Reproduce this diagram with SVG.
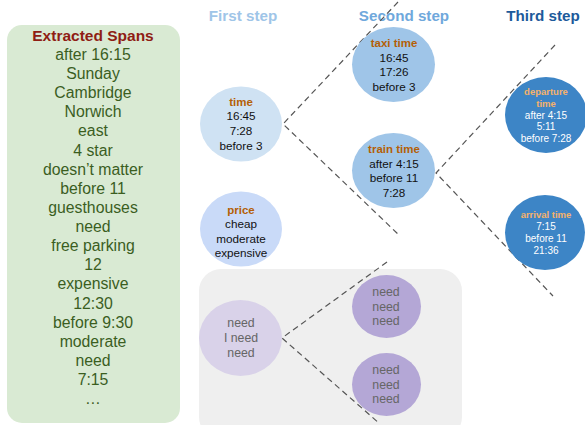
<svg xmlns="http://www.w3.org/2000/svg" width="585" height="425" viewBox="0 0 585 425">
<style>
text{font-family:"Liberation Sans",Arial,sans-serif;text-anchor:middle}
.span{font-size:15.8px;fill:#3b5e1f}
.hdr{font-size:15.2px;font-weight:bold}
.ttl{font-size:11.5px;font-weight:bold;fill:#b45f06}
.body{font-size:11.7px;fill:#111}
.ttl3{font-size:9.5px;font-weight:bold;fill:#f6b26b}
.body3{font-size:10px;fill:#fff}
.need{font-size:12.3px;fill:#666}
.dash{fill:none;stroke:#555;stroke-width:1.2;stroke-dasharray:6,4}
</style>
<rect x="7" y="25" width="173" height="398" rx="15" fill="#d9ead3"/>
<text x="93" y="41" style="font-size:15.5px;font-weight:bold;fill:#8f1d14">Extracted Spans</text>
<g>
<text x="93" y="60" class="span">after 16:15</text>
<text x="93" y="79" class="span">Sunday</text>
<text x="93" y="98" class="span">Cambridge</text>
<text x="93" y="117" class="span">Norwich</text>
<text x="93" y="136" class="span">east</text>
<text x="93" y="156" class="span">4 star</text>
<text x="93" y="175" class="span">doesn’t matter</text>
<text x="93" y="194" class="span">before 11</text>
<text x="93" y="213" class="span">guesthouses</text>
<text x="93" y="232" class="span">need</text>
<text x="93" y="251" class="span">free parking</text>
<text x="93" y="270" class="span">12</text>
<text x="93" y="289" class="span">expensive</text>
<text x="93" y="309" class="span">12:30</text>
<text x="93" y="328" class="span">before 9:30</text>
<text x="93" y="347" class="span">moderate</text>
<text x="93" y="366" class="span">need</text>
<text x="93" y="385" class="span">7:15</text>
<text x="93" y="404" class="span">…</text>
</g>
<text x="243" y="21" class="hdr" fill="#9fc5e8">First step</text>
<text x="404" y="21" class="hdr" fill="#6fa8dc">Second step</text>
<text x="543" y="21" class="hdr" fill="#1c5a9b">Third step</text>
<rect x="199" y="269" width="263" height="170" rx="22" fill="#efefef"/>
<g id="connectors">
<path class="dash" d="M398,2 L283,124 L399,235"/>
<path class="dash" d="M555,45 L436,173 L553,296"/>
<path class="dash" d="M387,262 L282,338 L380,424"/>
</g>
<g id="time">
<ellipse cx="241" cy="124" rx="41" ry="37.5" fill="#cfe2f3"/>
<text x="241" y="106" class="ttl">time</text>
<text x="241" y="120" class="body">16:45</text>
<text x="241" y="135" class="body">7:28</text>
<text x="241" y="150" class="body">before 3</text>
</g>
<g id="price">
<ellipse cx="241" cy="229" rx="41" ry="37.5" fill="#c9daf8"/>
<text x="241" y="214" class="ttl">price</text>
<text x="241" y="228" class="body">cheap</text>
<text x="241" y="243" class="body">moderate</text>
<text x="241" y="257" class="body">expensive</text>
</g>
<g id="taxi">
<ellipse cx="393.5" cy="64.5" rx="41.5" ry="37.5" fill="#9fc5e8"/>
<text x="394" y="47" class="ttl">taxi time</text>
<text x="394" y="62" class="body">16:45</text>
<text x="394" y="76" class="body">17:26</text>
<text x="394" y="91" class="body">before 3</text>
</g>
<g id="train">
<ellipse cx="393.5" cy="170.5" rx="41.5" ry="37.5" fill="#9fc5e8"/>
<text x="394" y="153" class="ttl">train time</text>
<text x="394" y="168" class="body">after 4:15</text>
<text x="394" y="182" class="body">before 11</text>
<text x="394" y="197" class="body">7:28</text>
</g>
<g id="departure">
<ellipse cx="546" cy="115" rx="41" ry="38" fill="#3d85c6"/>
<text x="546" y="95" class="ttl3">departure</text>
<text x="546" y="107" class="ttl3">time</text>
<text x="546" y="119" class="body3">after 4:15</text>
<text x="546" y="130" class="body3">5:11</text>
<text x="546" y="142" class="body3">before 7:28</text>
</g>
<g id="arrival">
<ellipse cx="545" cy="232.5" rx="40" ry="37.5" fill="#3d85c6"/>
<text x="546" y="218" class="ttl3">arrival time</text>
<text x="546" y="230" class="body3">7:15</text>
<text x="546" y="242" class="body3">before 11</text>
<text x="546" y="254" class="body3">21:36</text>
</g>
<g id="need1">
<ellipse cx="240.5" cy="338" rx="41.5" ry="38" fill="#d9d2e9"/>
<text x="241" y="327" class="need">need</text>
<text x="241" y="342" class="need">I need</text>
<text x="241" y="357" class="need">need</text>
</g>
<g id="need2">
<ellipse cx="386.5" cy="306.5" rx="34.5" ry="31.5" fill="#b4a7d6"/>
<text x="386" y="296" class="need">need</text>
<text x="386" y="311" class="need">need</text>
<text x="386" y="325" class="need">need</text>
</g>
<g id="need3">
<ellipse cx="386.5" cy="384.5" rx="34.5" ry="31.5" fill="#b4a7d6"/>
<text x="386" y="374" class="need">need</text>
<text x="386" y="389" class="need">need</text>
<text x="386" y="403" class="need">need</text>
</g>
</svg>
